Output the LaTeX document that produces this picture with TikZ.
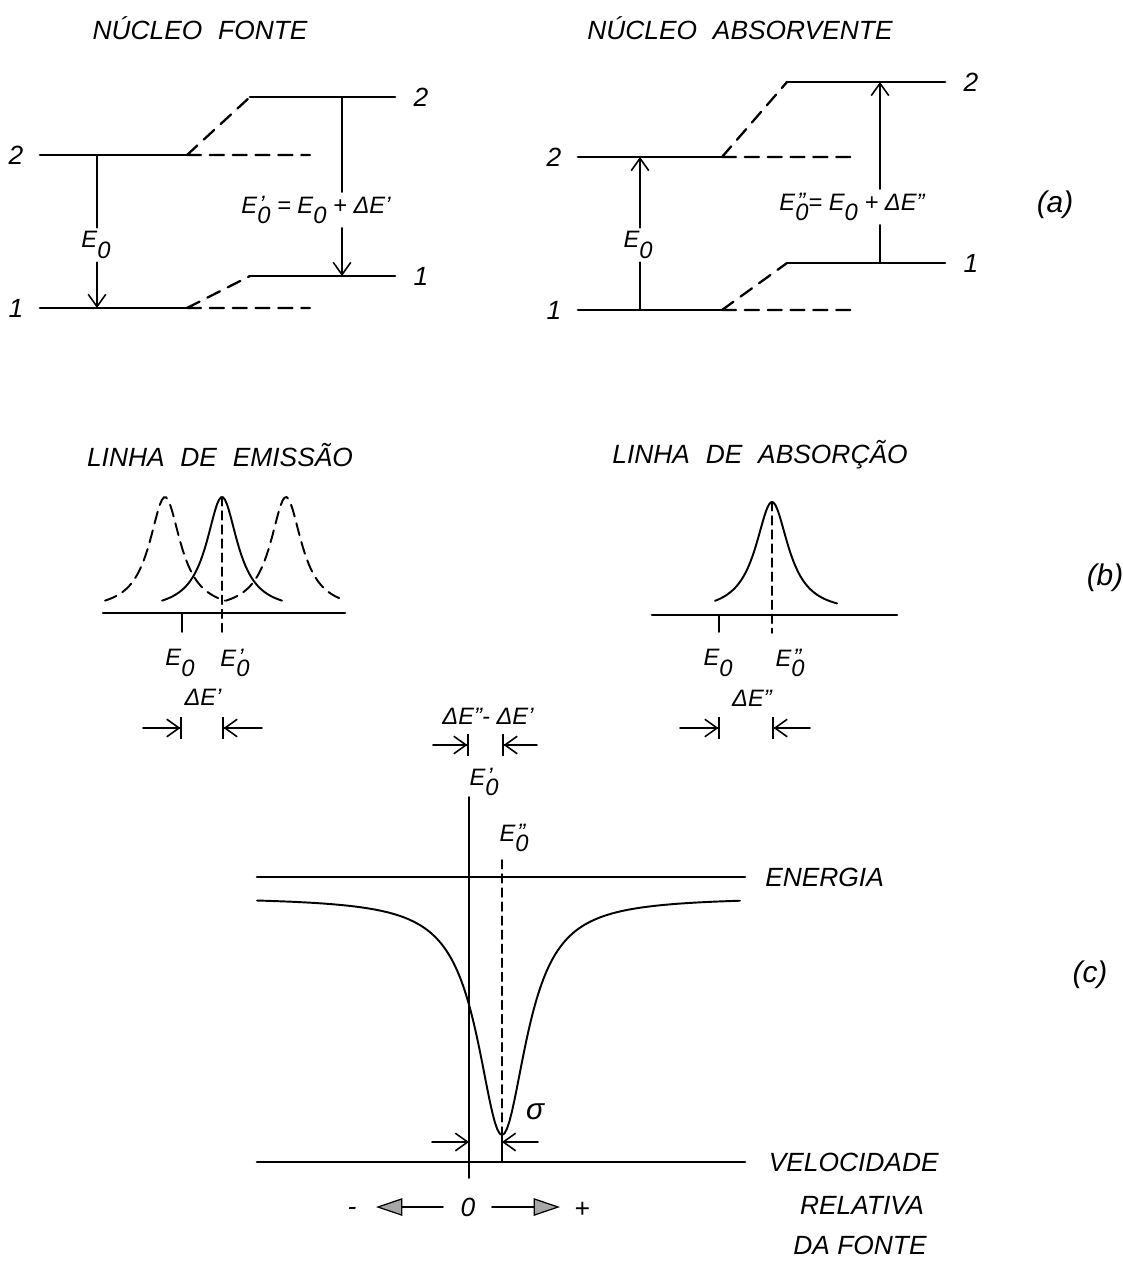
\documentclass[tikz,border=0pt]{standalone}
\usepackage{fontspec}
\setmainfont{Liberation Sans}
\usetikzlibrary{arrows.meta,calc,positioning}

\newcommand{\lblfont}{\fontsize{13.5}{15}\selectfont}
\newcommand{\Ezero}[1]{E\makebox[0pt][l]{\hspace{1.2pt}\raisebox{0.8pt}{#1}}\raisebox{-5.8pt}{0}}

\begin{document}
\begin{tikzpicture}[x=0.02cm,y=-0.02cm,line cap=round,
    font=\itshape\fontsize{15}{18}\selectfont,
    lvl/.style={line width=1.6pt},
    lvldash/.style={line width=1.3pt,dash pattern=on 8pt off 5pt},
    fine/.style={line width=0.9pt},
    lbl/.style={font=\itshape\lblfont,inner sep=2pt},
    big/.style={font=\itshape\fontsize{17}{20}\selectfont},
    barb/.style={fine,-{Straight Barb[length=7pt,width=10pt]}},
    barbbar/.style={fine,-{Straight Barb[length=7pt,width=10pt]Bar[width=13pt]}},
    fat/.style={fine,-{Triangle[length=15pt,width=10pt,fill=gray!70,line width=0.7pt]}},
    baseln/.style={line width=1.5pt},
    prof/.style={line width=1.1pt},
    profdash/.style={prof,dash pattern=on 7pt off 4pt},
    vdash/.style={fine,dash pattern=on 5pt off 3pt}]
  \useasboundingbox (0,0) rectangle (1122,1266);

  % (a) niveis: nucleo fonte (F) e absorvente (A)
  \node (tf) at (200,28) {NÚCLEO\hspace{0.6em}FONTE};
  \node (ta) at (740,28) {NÚCLEO\hspace{0.6em}ABSORVENTE};
  \coordinate (F2)  at (40,155);  \coordinate (F2k) at (187,155);
  \coordinate (F2d) at (310,155); \coordinate (F2u) at (250,97);
  \coordinate (F2e) at (395,97);
  \coordinate (F1)  at (40,308);  \coordinate (F1k) at (187,308);
  \coordinate (F1d) at (310,308); \coordinate (F1u) at (250,276);
  \coordinate (F1e) at (395,276);
  \coordinate (A2)  at (578,157); \coordinate (A2k) at (722,157);
  \coordinate (A2d) at (852,157); \coordinate (A2u) at (787,82);
  \coordinate (A2e) at (945,82);
  \coordinate (A1)  at (578,310); \coordinate (A1k) at (722,310);
  \coordinate (A1d) at (852,310); \coordinate (A1u) at (787,263);
  \coordinate (A1e) at (945,263);
  \foreach \n in {F,A}{
    \draw[lvl] (\n2) -- (\n2k) (\n2u) -- (\n2e) (\n1) -- (\n1k) (\n1u) -- (\n1e);
    \draw[lvldash] (\n2k) -- (\n2d) (\n2k) -- (\n2u) (\n1k) -- (\n1d) (\n1k) -- (\n1u);
    \node[left=6pt]  (\n2l) at (\n2)  {2};
    \node[left=6pt]  (\n1l) at (\n1)  {1};
    \node[right=7pt] (\n2r) at (\n2e) {2};
    \node[right=7pt] (\n1r) at (\n1e) {1};
  }
  % transicoes
  \node[lbl] (fe0) at (96,245) {\Ezero{}};
  \node[lbl] (fe1) at (316,210) {\Ezero{'} = \Ezero{} + ΔE'};
  \coordinate (fe0t) at (97,155); \coordinate (fe0b) at (97,308);
  \coordinate (fe1t) at (342,97); \coordinate (fe1b) at (342,276);
  \draw[fine] (fe0t) -- (fe0t |- fe0.north);
  \draw[barb] (fe0b |- fe0.south) -- (fe0b);
  \draw[fine] (fe1t) -- (fe1t |- fe1.north);
  \draw[barb] (fe1b |- fe1.south) -- (fe1b);
  \node[lbl] (ae0) at (638,245) {\Ezero{}};
  \node[lbl] (ae1) at (852,207) {\Ezero{''}= \Ezero{} + ΔE''};
  \coordinate (ae0t) at (640,157); \coordinate (ae0b) at (640,310);
  \coordinate (ae1t) at (880,82);  \coordinate (ae1b) at (880,263);
  \draw[fine] (ae0b) -- (ae0b |- ae0.south);
  \draw[barb] (ae0t |- ae0.north) -- (ae0t);
  \draw[fine] (ae1b) -- (ae1b |- ae1.south);
  \draw[barb] (ae1t |- ae1.north) -- (ae1t);
  \node[big] (la) at (1055,205) {(a)};

  % (b) linhas de emissao e absorcao
  \node (te) at (220,455) {LINHA\hspace{0.6em}DE\hspace{0.6em}EMISSÃO};
  \node (tb) at (760,455) {LINHA\hspace{0.6em}DE\hspace{0.6em}ABSORÇÃO};
  \coordinate (EL) at (103,613); \coordinate (ER) at (345,613);
  \coordinate (EP) at (222,497); \coordinate (EPb) at (222,632);
  \coordinate (ET) at (182,613); \coordinate (ETb) at (182,632);
  \draw[baseln] (EL) -- (ER);
  \draw[fine] (ET) -- (ETb);
  \draw[vdash] (EP) -- (EPb);
  \foreach \c/\a/\b/\s in {165/105/225/profdash,222/162/282/prof,286/226/345/profdash}
    \draw[\s] plot[domain=\a:\b,samples=60] (\x,{611-114/(1+((\x-\c)/19)^2)});
  \node[lbl] (e0) at (180,663) {\Ezero{}};
  \node[lbl] (e1) at (235,663) {\Ezero{'}};
  \node[lbl] (de1) at (203,697) {ΔE'};
  \coordinate (ea) at (143,728); \coordinate (eb) at (182,728);
  \coordinate (ec) at (262,728); \coordinate (ed) at (222,728);
  \draw[barbbar] (ea) -- (eb);
  \draw[barbbar] (ec) -- (ed);

  \coordinate (BL) at (652,615); \coordinate (BR) at (897,615);
  \coordinate (BP) at (772,502); \coordinate (BPb) at (772,633);
  \coordinate (BT) at (719,615); \coordinate (BTb) at (719,632);
  \draw[baseln] (BL) -- (BR);
  \draw[fine] (BT) -- (BTb);
  \draw[vdash] (BP) -- (BPb);
  \draw[prof] plot[domain=715:837,samples=80] (\x,{613-111/(1+((\x-772)/20)^2)});
  \node[lbl] (b0) at (718,663) {\Ezero{}};
  \node[lbl] (b2) at (790,663) {\Ezero{''}};
  \node[lbl] (db2) at (752,698) {ΔE''};
  \coordinate (ba) at (680,728); \coordinate (bb) at (720,728);
  \coordinate (bc) at (810,728); \coordinate (bd) at (772,728);
  \draw[barbbar] (ba) -- (bb);
  \draw[barbbar] (bc) -- (bd);
  \node[big] (lb) at (1105,578) {(b)};

  \node[lbl] (dd) at (488,716) {ΔE''- ΔE'};
  \coordinate (ma) at (433,745); \coordinate (mb) at (469,745);
  \coordinate (mc) at (537,745); \coordinate (md) at (502,745);
  \draw[barbbar] (ma) -- (mb);
  \draw[barbbar] (mc) -- (md);

  % (c) espectro em funcao da velocidade
  \coordinate (Vt) at (469,797); \coordinate (Vb) at (469,1178);
  \node[lbl] (c1) at (484,782) {\Ezero{'}};
  \node[lbl] (c2) at (514,838) {\Ezero{''}};
  \coordinate (Dt) at (502,860); \coordinate (Dm) at (502,1135);
  \coordinate (Db) at (502,1162);
  \coordinate (NL) at (257,877); \coordinate (NR) at (745,877);
  \coordinate (SL) at (257,1162); \coordinate (SR) at (745,1162);
  \draw[baseln] (NL) -- (NR);
  \draw[baseln] (SL) -- (SR);
  \draw[fine] (Vt) -- (Vb);
  \draw[vdash] (Dt) -- (Dm);
  \draw[fine] (Dm) -- (Db);
  \draw[prof] plot[domain=257:740,samples=200] (\x,{897+238/(1+((\x-502)/30)^2)});
  \coordinate (da) at (432,1142); \coordinate (db) at (469,1142);
  \coordinate (dc) at (538,1142); \coordinate (dm) at (502,1142);
  \draw[barb] (da) -- (db);
  \draw[barb] (dc) -- (dm);
  \node[font=\itshape\fontsize{17}{20}\selectfont] (sg) at (535,1112) {σ};
  \node[right=8pt of NR] (wen) {ENERGIA};
  \node[right=10pt of SR] (wvel) {VELOCIDADE};
  \node (wrel) at (862,1205) {RELATIVA};
  \node (wfon) at (860,1245) {DA FONTE};
  \coordinate (ml) at (443,1207); \coordinate (mt) at (376,1207);
  \coordinate (pl) at (492,1207); \coordinate (pt) at (560,1207);
  \draw[fat] (ml) -- (mt);
  \draw[fat] (pl) -- (pt);
  \node (zero) at (468,1207) {0};
  \node (minus) at (352,1211) {-};
  \node (plus) at (582,1210) {+};
  \node[big] (lc) at (1090,975) {(c)};
\end{tikzpicture}
\end{document}
